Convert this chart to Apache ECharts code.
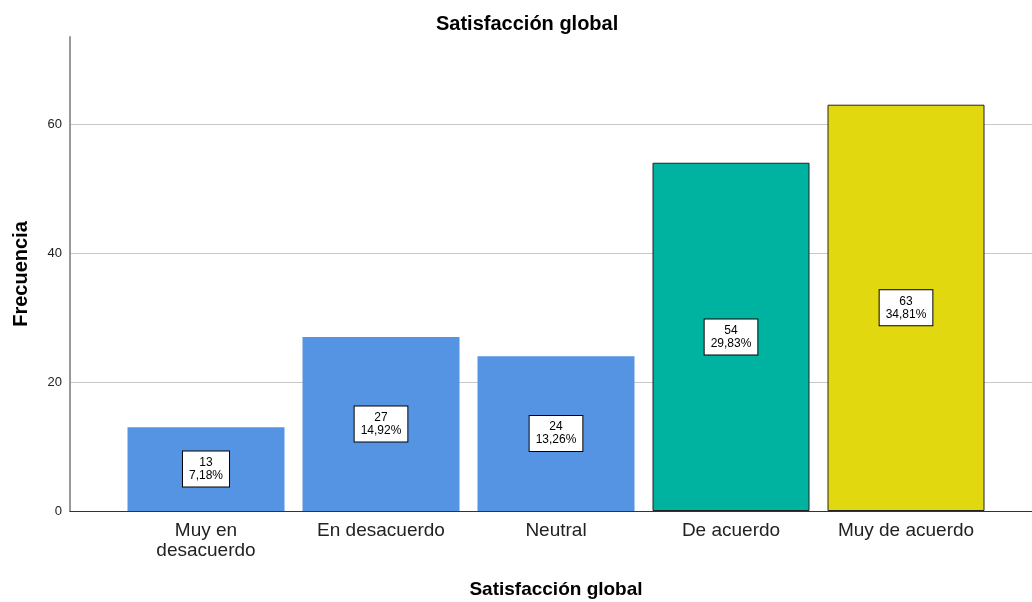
<!DOCTYPE html>
<html>
<head>
<meta charset="utf-8">
<script src="https://cdn.jsdelivr.net/npm/echarts@6/dist/echarts.min.js"></script>
<style>html,body{margin:0;padding:0;background:#fff}#c{width:1032px;height:602px}</style>
</head>
<body>
<div id="c"></div>
<script>
const categories = ['Muy en\ndesacuerdo', 'En desacuerdo', 'Neutral', 'De acuerdo', 'Muy de acuerdo'];
const frequencies = [13, 27, 24, 54, 63];
const percentLabels = ['7,18%', '14,92%', '13,26%', '29,83%', '34,81%'];
const yTicks = [0, 20, 40, 60];

const barColors = ['#5594E3', '#5594E3', '#5594E3', '#00B2A0', '#E2D810'];
const barBorders = [null, null, null, '#222', '#222'];
const FONT = 'Liberation Sans, Arial, sans-serif';
const YMAX = 73.5;

const chart = echarts.init(document.getElementById('c'), null, {renderer: 'canvas'});
chart.setOption({
  animation: false,
  backgroundColor: '#fff',
  title: {
    text: 'Satisfacción global', left: 431, top: 9,
    textStyle: {fontFamily: FONT, fontSize: 20, fontWeight: 'bold', color: '#000'}
  },
  grid: [
    {left: 70, right: 0, top: 37, bottom: 91, containLabel: false, outerBoundsMode: 'none'},
    {left: 118.5, right: 38.5, top: 37, bottom: 91, containLabel: false, outerBoundsMode: 'none'}
  ],
  xAxis: [
    {
      gridIndex: 0, type: 'value', min: 0, max: 1,
      axisLine: {show: true, onZero: false, lineStyle: {color: '#333', width: 1}},
      axisTick: {show: false}, axisLabel: {show: false}, splitLine: {show: false}
    },
    {
      gridIndex: 1, type: 'category', data: categories,
      axisLine: {show: false}, axisTick: {show: false},
      axisLabel: {fontFamily: FONT, fontSize: 19, color: '#222', margin: 10, lineHeight: 20, interval: 0},
      name: 'Satisfacción global', nameLocation: 'middle', nameGap: 69,
      nameTextStyle: {fontFamily: FONT, fontSize: 19, fontWeight: 'bold', color: '#000'}
    }
  ],
  yAxis: [
    {
      gridIndex: 0, type: 'value', min: 0, max: YMAX, interval: 20,
      axisLine: {show: true, lineStyle: {color: '#999', width: 2}},
      axisTick: {show: false},
      axisLabel: {
        fontFamily: FONT, fontSize: 13, color: '#222', margin: 8, showMaxLabel: false,
        formatter: v => yTicks.includes(v) ? String(v) : ''
      },
      splitLine: {show: true, showMaxLine: false, showMinLine: false, lineStyle: {color: '#c8c8c8', width: 1}},
      name: 'Frecuencia', nameLocation: 'middle', nameGap: 39,
      nameTextStyle: {fontFamily: FONT, fontSize: 20, fontWeight: 'bold', color: '#000'}
    },
    {
      gridIndex: 1, type: 'value', min: 0, max: YMAX, interval: 20, show: false
    }
  ],
  series: [{
    type: 'bar', xAxisIndex: 1, yAxisIndex: 1,
    barWidth: 157,
    data: frequencies.map((v, i) => ({
      value: v,
      itemStyle: {
        color: barColors[i],
        borderColor: barBorders[i] || barColors[i],
        borderWidth: barBorders[i] ? 1 : 0
      }
    })),
    label: {
      show: true, position: 'inside',
      formatter: p => frequencies[p.dataIndex] + '\n' + percentLabels[p.dataIndex],
      fontFamily: FONT, fontSize: 12, lineHeight: 13, color: '#000',
      backgroundColor: '#fff', borderColor: '#000', borderWidth: 1,
      padding: [5, 6, 4, 6]
    }
  }]
});
</script>
</body>
</html>
